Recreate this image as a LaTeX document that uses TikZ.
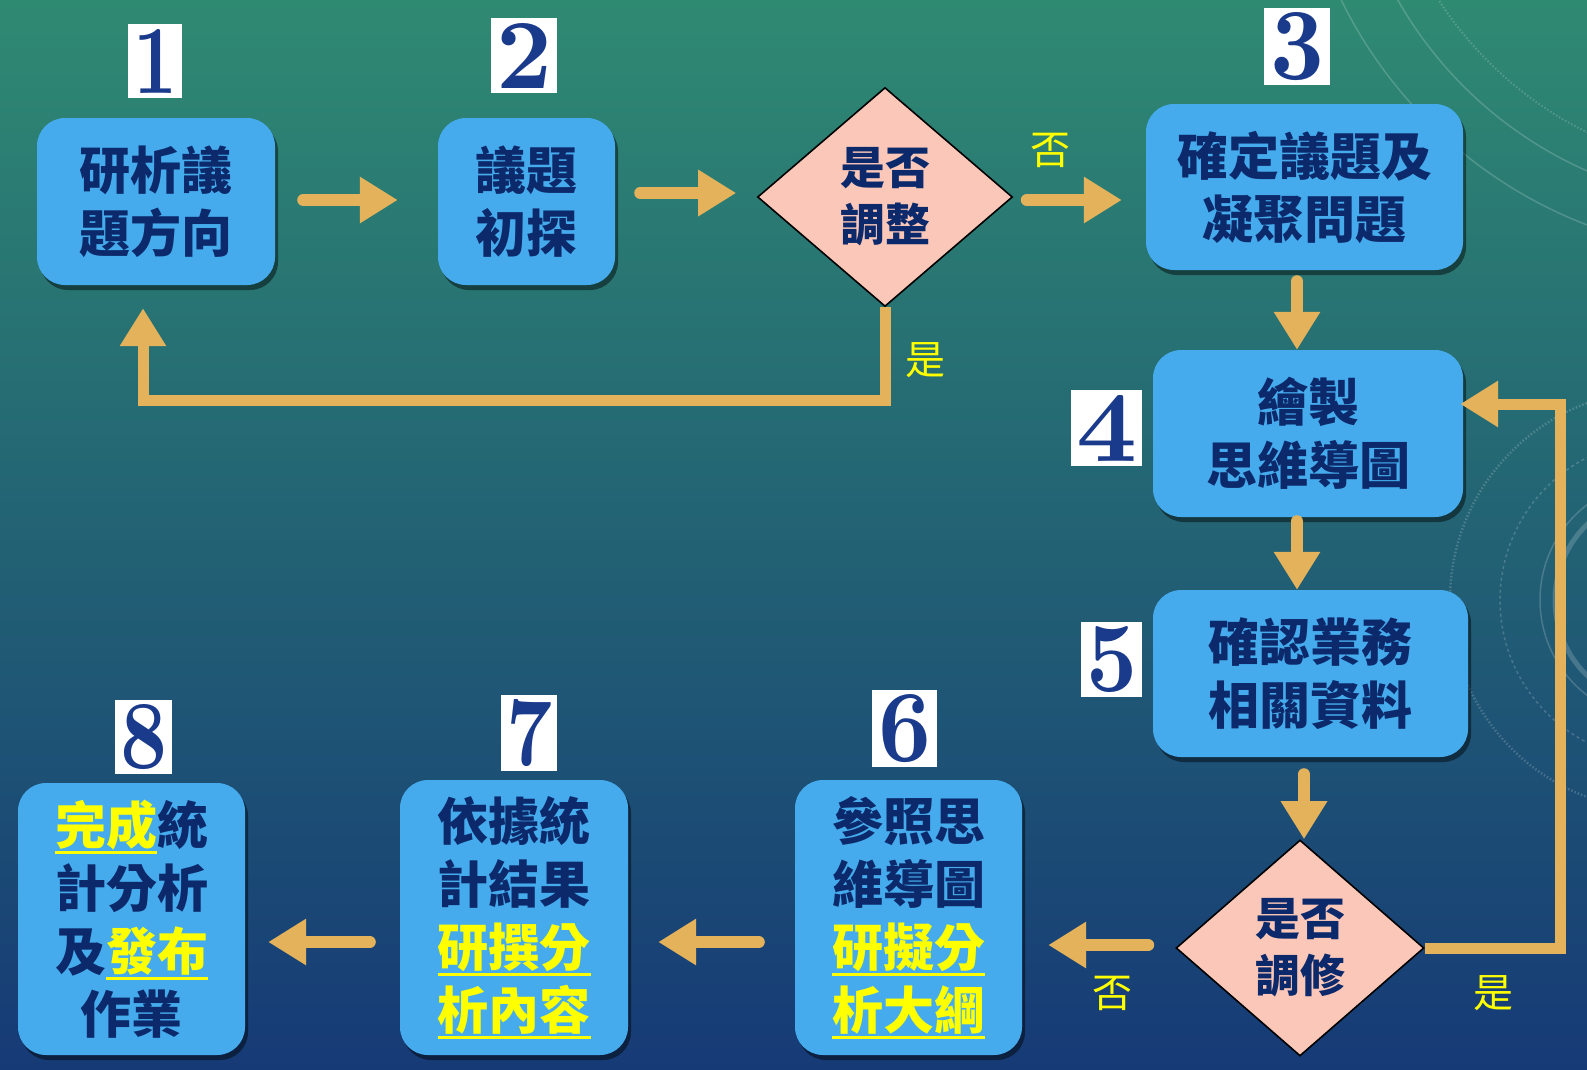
\documentclass[tikz,border=0pt]{standalone}
\usepackage{fontspec}
\usepackage{graphicx}
\usetikzlibrary{arrows.meta,shapes.geometric,shadows}
\newfontfamily\cjk{Noto Sans CJK TC}
\definecolor{boxblue}{HTML}{45ABED}
\definecolor{navy}{HTML}{0C2A6B}
\definecolor{arr}{HTML}{E3B25A}
\definecolor{dpink}{HTML}{FBC7B8}
\definecolor{ylw}{HTML}{FFFF00}
\definecolor{numblue}{HTML}{1A3A8C}
\definecolor{bgtop}{HTML}{2F8A72}
\definecolor{bgmid}{HTML}{1F6072}
\definecolor{bgbot}{HTML}{163A76}
\newcommand\yul[1]{\leavevmode\vtop{\hbox{#1}\kern1.5pt\hrule height 3pt}}
\begin{document}
\begin{tikzpicture}[x=1pt,y=-1pt,
  box/.style={rectangle, fill=boxblue, rounded corners=28pt, text=navy,
    font=\cjk\bfseries\fontsize{51}{63}\selectfont, align=center, inner sep=0pt,
    drop shadow={shadow xshift=3pt,shadow yshift=-5pt,opacity=.45,fill=black}},
  dmd/.style={diamond, draw=black, line width=1.6pt, fill=dpink, text=navy,
    font=\cjk\bfseries\fontsize{45}{57}\selectfont, align=center, inner sep=0pt},
  badge/.style={rectangle, fill=white, inner sep=0pt, text=numblue},
  arrw/.style={draw=arr, line width=12pt, line cap=round, -{Triangle[length=38pt,width=44pt]}},
  loop/.style={draw=arr, line width=11pt, line cap=butt, line join=miter, -{Triangle[length=38pt,width=44pt]}},
  lbl/.style={text=ylw, font=\cjk\fontsize{40}{40}\selectfont, inner sep=0pt},
  deco/.style={draw=white, opacity=.18, line width=1.5pt}
]
\useasboundingbox (0,0) rectangle (1587,1069);
% background
\fill[top color=bgtop, middle color=bgmid, bottom color=bgbot] (0,0) rectangle (1587,1069);
\begin{scope}
\clip (0,0) rectangle (1587,1069);
\draw[deco] (1750,-200) circle[radius=405];
\draw[deco] (1750,-200) circle[radius=455];
\draw[deco, dotted, line width=2pt] (1750,-200) circle[radius=370];
\draw[deco, dotted, line width=2.5pt] (1660,600) circle[radius=210];
\draw[deco, dashed] (1660,600) circle[radius=160];
\draw[deco] (1660,600) circle[radius=120];
\draw[deco, line width=5pt] (1660,600) circle[radius=105];
\end{scope}

% boxes
\node[box, minimum width=238pt, minimum height=167pt] (b1) at (156,201.5) {研析議\\題方向};
\node[box, minimum width=177pt, minimum height=167pt] (b2) at (526.5,201.5) {議題\\初探};
\node[dmd, minimum width=255pt, minimum height=219pt] (d1) at (885,197) {是否\\調整};
\node[box, minimum width=317pt, minimum height=166pt] (b3) at (1304.5,187) {確定議題及\\凝聚問題};
\node[box, minimum width=310pt, minimum height=167pt] (b4) at (1308,433.5) {繪製\\思維導圖};
\node[box, minimum width=315pt, minimum height=167pt] (b5) at (1310.5,673.5) {確認業務\\相關資料};
\node[dmd, minimum width=248pt, minimum height=216pt] (d2) at (1300,948) {是否\\調修};
\node[box, minimum width=227pt, minimum height=275pt] (b6) at (908.5,917.5)
  {參照思\\維導圖\\{\color{ylw}\yul{研擬分}}\\{\color{ylw}\yul{析大綱}}};
\node[box, minimum width=228pt, minimum height=275pt] (b7) at (514,917.5)
  {依據統\\計結果\\{\color{ylw}\yul{研撰分}}\\{\color{ylw}\yul{析內容}}};
\node[box, minimum width=227pt, minimum height=272pt] (b8) at (131.5,919)
  {{\color{ylw}\yul{完成}}統\\計分析\\及{\color{ylw}\yul{發布}}\\作業};

% badges
\node[badge, minimum width=54pt, minimum height=74pt] (n1) at (155,61) {\resizebox{44pt}{64pt}{\bfseries 1}};
\node[badge, minimum width=66pt, minimum height=75pt] (n2) at (524,55.5) {\resizebox{56pt}{65pt}{\bfseries 2}};
\node[badge, minimum width=66pt, minimum height=77pt] (n3) at (1297,46.5) {\resizebox{54pt}{67pt}{\bfseries 3}};
\node[badge, minimum width=71pt, minimum height=76pt] (n4) at (1106.5,428) {\resizebox{61pt}{66pt}{\bfseries 4}};
\node[badge, minimum width=61pt, minimum height=75pt] (n5) at (1111.5,659.5) {\resizebox{51pt}{65pt}{\bfseries 5}};
\node[badge, minimum width=65pt, minimum height=77pt] (n6) at (904.5,728.5) {\resizebox{53pt}{67pt}{\bfseries 6}};
\node[badge, minimum width=56pt, minimum height=76pt] (n7) at (529,733) {\resizebox{46pt}{66pt}{\bfseries 7}};
\node[badge, minimum width=57pt, minimum height=74pt] (n8) at (143.5,737) {\resizebox{47pt}{64pt}{\bfseries 8}};

% arrows
\draw[arrw] ([xshift=28pt,yshift=1.5pt]b1.east) -- ([xshift=-40pt,yshift=1.5pt]b2.west);
\draw[arrw] ([xshift=25pt,yshift=8.5pt]b2.east) -- ([xshift=-20.5pt,yshift=4pt]d1.west);
\draw[arrw] ([xshift=13.5pt,yshift=-3pt]d1.east) -- ([xshift=-24pt,yshift=-13pt]b3.west);
\draw[arrw] ([xshift=-7.5pt,yshift=-11pt]b3.south) -- ([xshift=-11pt]b4.north);
\draw[arrw] ([xshift=-11pt,yshift=-4pt]b4.south) -- ([xshift=-13.5pt]b5.north);
\draw[arrw] ([xshift=-6.5pt,yshift=-17pt]b5.south) -- ([xshift=4pt]d2.north);
\draw[loop] (d2.east) -| ([xshift=97pt,yshift=29.5pt]b4.east) -- ([xshift=-3pt,yshift=29.5pt]b4.east);
\draw[loop] (d1.south) |- ([xshift=-13pt,yshift=-115pt]b1.south) -- ([xshift=-13pt,yshift=-23pt]b1.south);
\draw[arrw] ([xshift=-27pt,yshift=3pt]d2.west) -- ([xshift=26pt,yshift=-27.5pt]b6.east);
\draw[arrw] ([xshift=-36pt,yshift=-24.5pt]b6.west) -- ([xshift=30pt,yshift=-24.5pt]b7.east);
\draw[arrw] ([xshift=-30pt,yshift=-24.5pt]b7.west) -- ([xshift=23pt,yshift=-23pt]b8.east);

% labels
\node[lbl] (l1) at (1050,150) {否};
\node[lbl] (l2) at (925,360) {是};
\node[lbl] (l3) at (1112,993) {否};
\node[lbl] (l4) at (1493,993) {是};
\end{tikzpicture}
\end{document}
